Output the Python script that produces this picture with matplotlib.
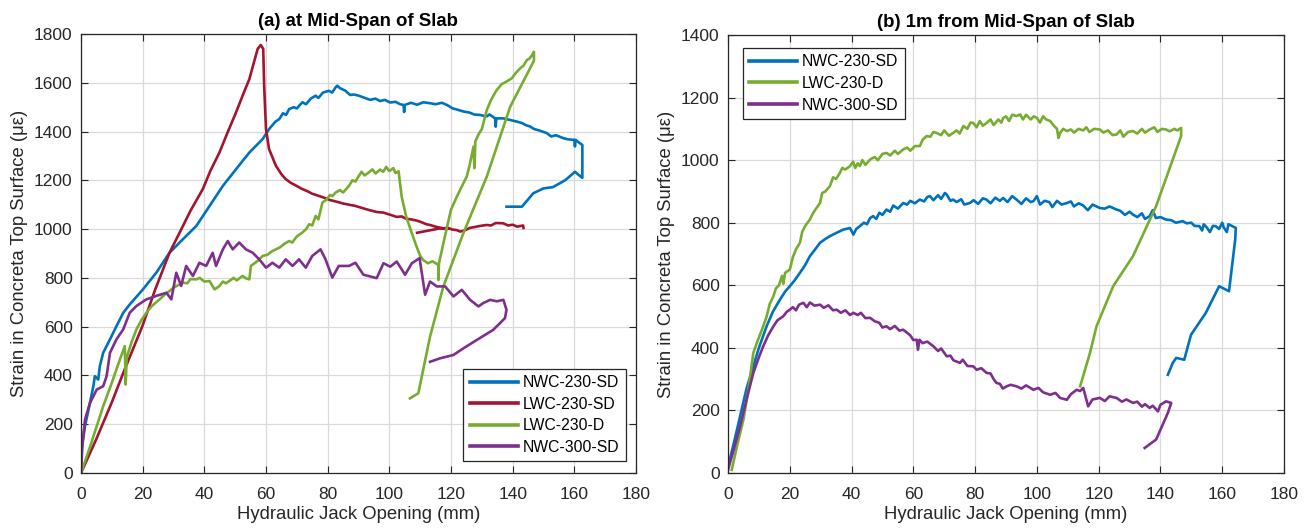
import numpy as np
import matplotlib
matplotlib.use("Agg")
import matplotlib.pyplot as plt

plt.rcParams['font.family'] = ['Liberation Sans', 'DejaVu Sans']

nan = float('nan')

# ---------------- (a) at mid-span ----------------
a_nwc230_x = [0, 0.2, 1.3, 2.9, 4.0, 4.5, 5.6, 6.1, 7.2, 9.4, 11.5, 13.7, 15.8, 20.1, 24.4, 28.7,
              33.0, 37.4, 41.7, 46.0, 50.3, 54.6, 58.9, 61.0, 62.0, 63.0, 64.3, 65.5, 66.5, 67.5,
              69.0, 70.0, 71.8, 73.0, 74.5, 76.1, 77.0, 78.5, 80.4, 81.5, 82.5, 83.1, 84.0, 85.8,
              87.3, 88.5, 90.1, 92.0, 93.8, 95.5, 97.0, 98.5, 100.3, 102.0, 103.5, 104.6, 104.8,
              105.0, 107.0, 109.0, 111.0, 113.3, 115.0, 117.0, 118.7, 120.5, 122.0, 124.1, 126.0,
              127.5, 129.5, 131.5, 132.5, 134.3, 134.5, 134.7, 137.0, 139.0, 141.3, 143.0, 144.5,
              145.6, 147.0, 148.5, 151.0, 152.5, 154.0, 156.4, 158.0, 160.0, 160.2, 160.4, 161.5,
              162.6, 162.6, 160.2, 157.0, 153.0, 150.0, 146.7, 143.0, 138.0]
a_nwc230_y = [0, 96, 192, 287, 356, 397, 383, 438, 493, 548, 602, 657, 691, 753, 821, 903,
              958, 1013, 1095, 1177, 1246, 1314, 1369, 1410, 1425, 1440, 1451, 1475, 1468, 1492,
              1500, 1495, 1520, 1512, 1535, 1547, 1538, 1560, 1567, 1560, 1580, 1588, 1578, 1567,
              1550, 1552, 1547, 1538, 1530, 1535, 1525, 1530, 1519, 1522, 1512, 1509, 1480,
              1509, 1518, 1510, 1520, 1516, 1512, 1518, 1509, 1495, 1490, 1482, 1478,
              1470, 1468, 1462, 1470, 1454, 1420, 1454, 1454, 1448, 1441, 1435, 1425,
              1421, 1410, 1405, 1394, 1380, 1385, 1373, 1368, 1366, 1339, 1366, 1355,
              1345, 1210, 1235, 1200, 1172, 1167, 1147, 1092, 1092]

a_lwc230sd_x = [0, 5, 10, 14, 19.9, 24, 28.7, 32.0, 35.5, 39.5, 42, 44.9, 47.5, 50.3, 52.5, 54.6,
                56.0, 57.3, 58.3, 59.1, 59.4, 60.0, 61.0, 63.2, 65.0, 66.4, 68.0, 69.5, 71.8, 73.5,
                75.0, 77.2, 79.0, 80.8, 83.0, 85.0, 87.0, 89.0, 91.6, 93.5, 96.0, 98.0, 100.0,
                102.4, 104.0, 105.5, 107.0, 108.9, 110.5, 112.0, 113.2, 115.0, 117.5, 119.0, 120.5,
                121.8, 123.0, 124.5, 126.1, 127.5, 129.0, 131.5, 133.0, 134.5, 136.9, 138.5, 140.0,
                141.5, 143.4, 143.5, nan, 109.0, 116.4, 119.0]
a_lwc230sd_y = [0, 140, 290, 420, 602, 750, 903, 986, 1075, 1164, 1240, 1314, 1395, 1479, 1550, 1615,
                1680, 1739, 1755, 1739, 1588, 1410, 1328, 1260, 1225, 1205, 1190, 1180, 1164, 1155,
                1145, 1136, 1128, 1119, 1112, 1105, 1100, 1095, 1085, 1078, 1070, 1068, 1060,
                1050, 1052, 1042, 1040, 1035, 1028, 1020, 1017, 1010, 1003, 1005, 998,
                996, 990, 995, 1005, 1008, 1012, 1017, 1015, 1025, 1024, 1015, 1018,
                1010, 1015, 1005, nan, 985, 1003, 1002]

a_lwc230d_x = [0, 3, 7.2, 10, 12.6, 14.2, 14.5, 14.8, 15.3, 16.5, 18, 19.5, 21.2, 23, 25.5, 27,
               28.7, 30, 31.5, 33, 34.5, 35.5, 37.4, 38.5, 40, 41.7, 42.5, 43.3, 44.2, 44.9, 46,
               47, 48.1, 49.5, 50.5, 52.4, 53.5, 54.6, 55.1, 56.5, 57.5, 58.9, 60.5, 62, 63.2,
               64.5, 66, 67.5, 68.5, 70, 71.8, 73, 74, 75, 76.1, 77, 78.3, 79.5, 80.8, 81.5, 82.6,
               84, 85, 86.9, 88, 89, 90.1, 91, 92, 93.3, 94.5, 95.5, 97, 98, 99, 100, 101.3, 102,
               103, 104, 105.5, 107.3, 108.5, 110, 111, 112.5, 114, 115.9, 115.9, 116.1, 118, 120,
               121.9, 123.5, 125.1, 126, 127.3, 127.6, 127.9, 129, 130, 131.6, 133, 134.8, 136.5,
               138, 139.7, 141, 142.5, 143.5, 144.6, 145.5, 146.2, 146.9, 146.9,
               139.2, 131.6, 124.0, 117.5, 113.2, 109.4, 106.7]
a_lwc230d_y = [0, 110, 274, 370, 465, 520, 363, 470, 493, 540, 589, 625, 657, 685, 712, 730,
               746, 760, 770, 780, 778, 795, 794, 800, 785, 787, 770, 753, 760, 767, 785,
               778, 787, 800, 790, 808, 798, 794, 849, 862, 872, 890, 895, 910, 917,
               925, 940, 951, 945, 970, 986, 1000, 1020, 1015, 1054, 1040, 1109, 1120, 1140, 1135, 1150,
               1160, 1150, 1177, 1200, 1195, 1218, 1235, 1220, 1232, 1245, 1228, 1244, 1235, 1255, 1238, 1250, 1230,
               1237, 1133, 1050, 983, 940, 890, 873, 860, 868, 853, 791, 860, 969, 1080,
               1133, 1175, 1215, 1260, 1338, 1250, 1360, 1390, 1410, 1488, 1530, 1570, 1595,
               1605, 1618, 1640, 1660, 1670, 1693, 1700, 1712, 1727, 1690,
               1502, 1215, 983, 764, 559, 327, 306]

a_nwc300_x = [0, 0.5, 1.3, 2.9, 5.1, 7.2, 8.3, 9.4, 11.5, 13.7, 15.8, 18.0, 21.2, 24.4, 27.7, 29.3,
              30.9, 32.5, 34.1, 36.3, 38.4, 40.6, 42.7, 43.8, 46.0, 47.6, 49.2, 51.3, 53.5, 55.7,
              57.8, 60.0, 62.1, 64.3, 66.4, 68.6, 70.7, 72.9, 75.0, 77.7, 79.3, 81.5, 83.6, 86.9,
              89.0, 91.6, 95.9, 98.1, 100.3, 102.4, 105.1, 107.3, 109.8, 111.6, 113.2, 115.4, 118.1,
              120.8, 123.5, 126.2, 128.9, 130.5, 132.7, 134.8, 137.0, 138.0, 137.5, 133.7, 128.3,
              124.0, 120.8, 116.4, 113.2]
a_nwc300_y = [0, 123, 219, 287, 342, 356, 397, 493, 548, 589, 657, 685, 712, 726, 739, 712,
              821, 767, 849, 808, 862, 849, 903, 849, 917, 951, 917, 945, 917, 903,
              876, 842, 862, 842, 876, 849, 876, 842, 890, 917, 876, 801, 849, 849,
              862, 813, 799, 860, 846, 867, 813, 860, 881, 731, 785, 765, 765,
              724, 751, 710, 683, 697, 710, 704, 710, 669, 635, 587, 545,
              511, 484, 470, 456]

# ---------------- (b) 1 m from mid-span ----------------
b_nwc230_x = [0, 2, 3.9, 6, 8.2, 10, 12.5, 14.5, 16.8, 18.5, 20, 21.5, 23.3, 25, 26.5, 28, 29.8,
              31.5, 33, 35, 37.3, 39.5, 40.6, 41.5, 42.7, 44, 45, 46, 47, 48, 49, 50, 51.3, 52.5,
              53.5, 55, 56.7, 58, 59, 60.5, 62.1, 63.5, 64.5, 65.4, 66.5, 68, 69, 70.2, 70.8, 72,
              72.9, 74, 75.5, 76.5, 78.3, 79.5, 81, 82.5, 83.7, 85, 86.5, 88, 89.1, 90.5, 92, 93.4,
              95, 96.5, 98, 98.9, 100, 101, 102.5, 104, 105, 106.5, 108, 109.7, 111, 112, 113.5,
              115, 116.5, 118, 120.4, 122, 123.5, 125.8, 127, 128.5, 130, 131.1, 132.5, 134, 135,
              136.5, 137.5, 138.5, 140, 141.8, 143.5, 145, 147.2, 148.5, 150, 151, 152.6, 153.5,
              154, 155, 156, 157, 157.9, 159, 160, 160.5, 161.5, 162, 163.3, 164.4, 164.2, 162.2,
              159, 154.7, 149.9, 147.7, 145.1, 144, 142.4]
b_nwc230_y = [21, 100, 181, 270, 341, 400, 469, 515, 554, 580, 597, 615, 640, 665, 693, 712, 736,
              748, 757, 767, 778, 783, 762, 780, 789, 800, 795, 815, 821, 812, 832, 825, 842, 835,
              855, 845, 863, 858, 870, 862, 874, 868, 882, 885, 872, 888, 876, 895, 890, 870,
              874, 866, 875, 858, 863, 872, 860, 878, 874, 862, 880, 870, 879, 866, 885, 874,
              860, 878, 866, 869, 885, 858, 870, 866, 850, 870, 858, 863, 868, 852, 862,
              855, 840, 858, 847, 845, 852, 842, 838, 825, 835, 826, 818, 830, 812,
              821, 840, 815, 818, 810, 808, 800, 805, 798, 800, 790, 789, 775,
              795, 785, 770, 790, 789, 780, 800, 785, 770, 795, 789, 783, 746, 581,
              597, 512, 442, 362, 368, 352, 314]

b_lwc230d_x = [1.2, 3, 5, 6.5, 8.2, 9.5, 11.4, 12.5, 13.5, 14.7, 15.5, 16.5, 17.5, 17.9, 18.5, 20,
               21, 22, 23.3, 24, 25, 26.5, 27.5, 28.5, 29.8, 30.5, 31.5, 33, 34, 35, 36.2, 37, 38,
               39.5, 40.5, 41.2, 42, 42.7, 43.5, 44.5, 46, 47.5, 48.5, 50, 51.3, 52.5, 54, 55, 56.7,
               58, 59, 60.5, 62.1, 63, 64.3, 65.5, 66.5, 67.5, 69, 70, 71.5, 72.9, 74, 75, 76.2,
               77.5, 78.5, 79.4, 80.5, 81.5, 82.5, 83.7, 85, 86, 87.5, 88.5, 89.1, 90, 91, 92, 93.4,
               94.6, 95.5, 96.5, 98, 99, 100, 101, 102, 103, 104.3, 105.5, 106.5, 107, 107.5, 108.5,
               109.7, 111, 112, 113.5, 115, 116, 117, 118.5, 120.4, 121.5, 123, 124.5, 125.8, 127,
               128, 129.5, 131.1, 132.5, 134, 135, 136.5, 138, 139, 140.5, 141.8, 143, 144.5, 145.5,
               146.7, 146.7, 138.6, 131.1, 124.7, 119.3, 117.2, 114]
b_lwc230d_y = [10, 90, 171, 260, 384, 420, 469, 500, 540, 565, 590, 600, 630, 605, 640, 650,
               690, 715, 736, 770, 790, 810, 830, 845, 863, 895, 900, 917, 945, 940, 959, 975, 970,
               981, 995, 975, 990, 981, 1000, 985, 1002, 1010, 1000, 1020, 1023, 1015, 1030, 1020, 1034,
               1040, 1030, 1045, 1045, 1065, 1077, 1075, 1090, 1087, 1080, 1095, 1078, 1087, 1095, 1085, 1109,
               1100, 1120, 1119, 1105, 1125, 1110, 1119, 1130, 1112, 1130, 1120, 1135, 1140, 1125, 1145, 1141,
               1146, 1130, 1145, 1130, 1140, 1135, 1120, 1140, 1130, 1125, 1110, 1100, 1071, 1087, 1100,
               1093, 1098, 1088, 1100, 1095, 1105, 1090, 1100, 1098, 1088, 1095, 1080, 1082, 1095,
               1075, 1090, 1093, 1085, 1100, 1088, 1098, 1105, 1090, 1100, 1098, 1092, 1100, 1095,
               1103, 1077, 853, 693, 597, 469, 384, 277]

b_nwc300_x = [0, 2, 3.9, 6, 8.2, 10, 11.4, 13, 14.7, 16, 17.9, 19, 20, 21, 22, 23, 24.4, 25.5,
              26.5, 28, 29.8, 31, 32.5, 34, 35.2, 36.5, 38, 39.5, 40.6, 42, 43, 44.5, 46, 47.5, 49,
              50, 51.3, 52.5, 54, 55.5, 56.7, 58, 59, 60, 61.1, 61.5, 62, 63, 64.5, 66.5, 68, 69,
              70.8, 72, 73, 75.1, 76, 77.5, 79.4, 80.5, 82, 83.7, 85, 86, 86.9, 88, 89, 90.2, 91.5,
              93.4, 95, 96.5, 98.9, 100.5, 102, 104.3, 106, 107.5, 109.7, 111, 112.9, 114, 115,
              116.6, 118, 120.4, 122, 123.5, 125.8, 127.5, 129, 131.1, 132.5, 134, 135, 136.5,
              137.5, 139.2, 140, 141.8, 143.5, 142.4, 138.6, 134.9]
b_nwc300_y = [10, 80, 149, 235, 320, 370, 405, 440, 469, 488, 501, 515, 522, 530, 520, 538, 544, 530,
              545, 535, 538, 528, 536, 520, 522, 512, 520, 505, 512, 505, 512, 495, 496, 485, 480,
              465, 469, 460, 470, 455, 458, 448, 440, 425, 426, 394, 426, 415, 420, 405, 390, 398,
              373, 375, 360, 352, 362, 342, 341, 330, 335, 320, 318, 300, 288, 285, 270, 277, 282,
              277, 270, 280, 266, 272, 258, 250, 256, 240, 234, 252, 266, 262, 272,
              213, 235, 240, 230, 245, 240, 228, 235, 224, 228, 212, 220, 208,
              215, 197, 218, 229, 224, 192, 107, 80]

c_blue = '#0072BD'
c_red = '#A2142F'
c_green = '#77AC30'
c_purple = '#7E2F8E'

fig = plt.figure(figsize=(13.09, 5.30), dpi=100)
axL = fig.add_axes([81 / 1309, 57 / 530, 555 / 1309, 439 / 530])
axR = fig.add_axes([728 / 1309, 57 / 530, 556 / 1309, 438 / 530])

lw = 1.9
axL.plot(a_nwc230_x, a_nwc230_y, color=c_blue, lw=lw, label='NWC-230-SD')
axL.plot(a_lwc230sd_x, a_lwc230sd_y, color=c_red, lw=lw, label='LWC-230-SD')
axL.plot(a_lwc230d_x, a_lwc230d_y, color=c_green, lw=lw, label='LWC-230-D')
axL.plot(a_nwc300_x, a_nwc300_y, color=c_purple, lw=lw, label='NWC-300-SD')

axR.plot(b_nwc230_x, b_nwc230_y, color=c_blue, lw=lw, label='NWC-230-SD')
axR.plot(b_lwc230d_x, b_lwc230d_y, color=c_green, lw=lw, label='LWC-230-D')
axR.plot(b_nwc300_x, b_nwc300_y, color=c_purple, lw=lw, label='NWC-300-SD')

edge = '#262626'
for ax, ymax, ystep, title in [(axL, 1800, 200, '(a) at Mid-Span of Slab'),
                               (axR, 1400, 200, '(b) 1m from Mid-Span of Slab')]:
    ax.set_xlim(0, 180)
    ax.set_ylim(0, ymax)
    ax.set_xticks(np.arange(0, 181, 20))
    ax.set_yticks(np.arange(0, ymax + 1, ystep))
    ax.grid(True, color='#d9d9d9', lw=0.9)
    ax.set_axisbelow(True)
    ax.tick_params(direction='in', top=True, right=True, length=5, width=0.8,
                   labelsize=12.5, colors=edge)
    ax.tick_params(axis='x', pad=10)
    ax.tick_params(axis='y', pad=6)
    for s in ax.spines.values():
        s.set_color(edge)
        s.set_linewidth(0.9)
    ax.set_xlabel('Hydraulic Jack Opening (mm)', fontsize=13.3, color=edge, labelpad=3)
    ax.set_ylabel('Strain in Concreta Top Surface (\u03bc\u03b5)', fontsize=13.3, color=edge, labelpad=4)
    ax.set_title(title, fontsize=13.4, fontweight='bold', color='black', pad=6)

legkw = dict(fontsize=11.3, handlelength=3.1, handletextpad=0.3, borderpad=0.4,
             labelspacing=0.42, borderaxespad=0.5, fancybox=False, framealpha=1, edgecolor=edge)
lgL = axL.legend(loc='lower right', bbox_to_anchor=(0.996, 0.009), **legkw)
lgR = axR.legend(loc='upper left', bbox_to_anchor=(0.012, 0.988), **legkw)
for lg in (lgL, lgR):
    lg.get_frame().set_linewidth(0.9)
    for l in lg.get_lines():
        l.set_linewidth(2.6)

fig.savefig('out.png', dpi=100)
